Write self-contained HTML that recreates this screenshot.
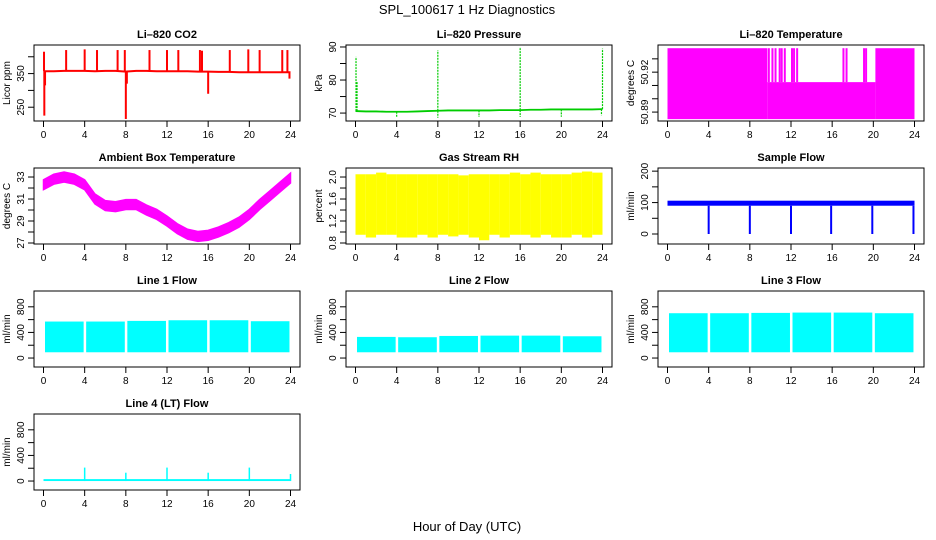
<!DOCTYPE html>
<html><head><meta charset="utf-8"><style>
html,body{margin:0;padding:0;background:#fff;}
svg{display:block;font-family:"Liberation Sans",sans-serif;}
</style></head><body>
<svg id="c" width="936" height="540" viewBox="0 0 936 540">
<text x="467" y="14" text-anchor="middle" font-size="13">SPL_100617  1 Hz Diagnostics</text>
<text x="467" y="531" text-anchor="middle" font-size="13">Hour of Day (UTC)</text>
</svg>
<script>
// ---- data ----
const xTicks = [0,4,8,12,16,20,24];
const hours = [0,1,2,3,4,5,6,7,8,9,10,11,12,13,14,15,16,17,18,19,20,21,22,23,24];
// CO2
const co2Base = [357,357,358,358,358,357,358,358,356,358,358,357,357,357,357,356,356,355,355,354,354,354,354,354,354];
const co2Spikes = [[0.05,415],[0.08,225],[0.15,315],[2.2,420],[4.0,422],[5.2,420],[7.2,420],[7.9,420],[8.0,215],[8.1,320],[10.3,420],[12.0,420],[13.1,420],[15.2,420],[15.4,418],[16.0,290],[18.1,420],[19.9,422],[21.0,420],[23.2,420],[23.7,420],[23.9,335]];
// Pressure
const presBase = [70.6,70.5,70.5,70.4,70.4,70.4,70.5,70.6,70.7,70.8,70.8,70.8,70.8,70.8,70.9,70.9,70.9,71.0,71.0,71.1,71.1,71.1,71.1,71.1,71.2];
const presSpikes = [[0.05,87],[0.15,79.5],[8.0,89],[16.0,90],[24.0,89.5],[4.0,68.6],[8.0,68.6],[12.0,68.8],[16.0,68.8],[20.0,68.9],[23.9,69.3]];
// Li-820 temperature: [start, end, top]
const tempSegs = [[0,9.7,50.938],[9.7,20.2,50.9125],[20.2,24,50.938]];
const tempSpikes = [9.75,10.1,10.4,10.8,11.0,11.3,12.0,12.2,12.5,17.0,17.3,19.0,19.2];
const tempBottom = 50.8847;
// Ambient box temperature (hourly centre)
const ambMean = [32.3,32.8,33.0,32.8,32.3,31.0,30.4,30.3,30.5,30.5,30.0,29.6,29.0,28.3,27.8,27.6,27.7,28.0,28.4,28.9,29.6,30.5,31.3,32.1,32.9];
const ambHalf = 0.45;
// Gas stream RH (hourly min/max)
const rhMin = [0.95,0.9,0.95,0.95,0.9,0.9,0.95,0.9,0.95,0.92,0.95,0.9,0.85,0.95,0.9,0.95,0.95,0.9,0.95,0.9,0.9,0.95,0.9,0.95,1.0];
const rhMax = [2.05,2.05,2.08,2.05,2.05,2.05,2.05,2.05,2.05,2.05,2.03,2.05,2.05,2.05,2.05,2.08,2.05,2.08,2.05,2.05,2.05,2.08,2.1,2.08,2.05];
// Sample flow
const sfLow = 90, sfHigh = 106;
const sfDrops = [4,8,12,15.9,19.9,23.9];
// Line flows (per 4h block high values)
const flowBlocks = [0,4,8,12,16,20];
const line1High = [570,570,580,590,590,575];
const line2High = [330,325,345,350,350,340];
const line3High = [700,700,705,710,710,700];
const flowLow = 90;
const line4Spikes = [[4,210],[8,130],[12,210],[16,130],[20,210],[24,110]];
const line4Base = 18;

// ---- layout ----
const NS="http://www.w3.org/2000/svg";
const svg=document.getElementById('c');
function el(tag,attrs,parent){const e=document.createElementNS(NS,tag);for(const k in attrs)e.setAttribute(k,attrs[k]);(parent||svg).appendChild(e);return e;}
const colX=[34,346,658], rowY=[45,168,291,414], BW=266, BH=76;

function panel(col,row,title,ylab,y0,y1,yticks,ylabels,name){
  const g=el('g',{});
  
  
  const bx=colX[col], by=rowY[row];
  const xs=h=>bx+9.5+h*(247/24);
  const ys=v=>by+BH-(v-y0)/(y1-y0)*BH;
  const t=el('text',{x:bx+BW/2,y:by-7,'text-anchor':'middle','font-size':'11','font-weight':'bold'},g);
  t.textContent=title;
  
  
  const plot=el('g',{},g);
  
  
  const box=el('rect',{x:bx,y:by,width:BW,height:BH,fill:'none',stroke:'#000','stroke-width':1},g);
  
  
  xTicks.forEach(h=>{
    el('line',{x1:xs(h),x2:xs(h),y1:by+BH,y2:by+BH+6,stroke:'#000'},g);
    const l=el('text',{x:xs(h),y:by+BH+17,'text-anchor':'middle','font-size':'10'},g);
    l.textContent=h;
    
    
  });
  yticks.forEach(v=>{
    el('line',{x1:bx,x2:bx-6,y1:ys(v),y2:ys(v),stroke:'#000'},g);
  });
  ylabels.forEach(v=>{
    const l=el('text',{x:0,y:0,'text-anchor':'middle','font-size':'10',transform:`translate(${bx-10},${ys(v)}) rotate(-90)`},g);
    l.textContent=v;
    
    
  });
  const yl=el('text',{x:0,y:0,'text-anchor':'middle','font-size':'10',transform:`translate(${bx-24},${by+BH/2}) rotate(-90)`},g);
  yl.textContent=ylab;
  
  
  return {plot,xs,ys};
}

// CO2
(function(){
  const p=panel(0,0,'Li–820 CO2','Licor ppm',209,435,[250,300,350,400],['250','350'],'co2');
  const pts=hours.map((h,i)=>p.xs(h)+','+p.ys(co2Base[i])).join(' ');
  el('polyline',{points:pts,fill:'none',stroke:'#f00','stroke-width':2},p.plot);
  co2Spikes.forEach(([h,v])=>{
    const b=co2Base[Math.round(h)];
    const s=el('line',{x1:p.xs(h),x2:p.xs(h),y1:p.ys(b),y2:p.ys(v),stroke:'#f00','stroke-width':2},p.plot);
    
    
  });
})();
// Pressure
(function(){
  const p=panel(1,0,'Li–820 Pressure','kPa',67.6,90.6,[70,75,80,85,90],['70','80','90'],'pressure');
  const pts=hours.map((h,i)=>p.xs(h)+','+p.ys(presBase[i])).join(' ');
  el('polyline',{points:pts,fill:'none',stroke:'#0c0','stroke-width':1.8},p.plot);
  presSpikes.forEach(([h,v])=>{
    const b=presBase[Math.round(h)];
    const s=el('line',{x1:p.xs(h),x2:p.xs(h),y1:p.ys(b),y2:p.ys(v),stroke:'#0c0','stroke-width':1.2,'stroke-dasharray':'2,1'},p.plot);
    
    
  });
})();
// Li-820 Temperature
(function(){
  const p=panel(2,0,'Li–820 Temperature','degrees C',50.8833,50.9404,[50.89,50.90,50.91,50.92,50.93],['50.89','50.92'],'li820-temp');
  tempSegs.forEach(([a,b,top])=>{
    const r=el('rect',{x:p.xs(a),y:p.ys(top),width:p.xs(b)-p.xs(a),height:p.ys(tempBottom)-p.ys(top),fill:'#f0f'},p.plot);
    
    
  });
  tempSpikes.forEach(h=>{
    const s=el('rect',{x:p.xs(h),y:p.ys(tempSegs[0][2]),width:2,height:p.ys(tempSegs[1][2])-p.ys(tempSegs[0][2]),fill:'#f0f'},p.plot);
    
    
  });
})();
// Ambient
(function(){
  const p=panel(0,1,'Ambient Box Temperature','degrees C',26.91,33.82,[27,28,29,30,31,32,33],['27','29','31','33'],'ambient-temp');
  const up=hours.map((h,i)=>p.xs(h)+','+p.ys(ambMean[i]+ambHalf));
  const dn=hours.map((h,i)=>p.xs(h)+','+p.ys(ambMean[i]-ambHalf)).reverse();
  const poly=el('polygon',{points:up.concat(dn).join(' '),fill:'#f0f',stroke:'#f0f','stroke-width':1.5},p.plot);
  
  
})();
// RH
(function(){
  const p=panel(1,1,'Gas Stream RH','percent',0.782,2.164,[0.8,1.0,1.2,1.4,1.6,1.8,2.0],['0.8','1.2','1.6','2.0'],'rh');
  hours.slice(0,24).forEach((h,i)=>{
    const r=el('rect',{x:p.xs(h),y:p.ys(rhMax[i]),width:p.xs(h+1)-p.xs(h),height:p.ys(rhMin[i])-p.ys(rhMax[i]),fill:'#ff0'},p.plot);
    
    
  });
})();
// Sample flow
(function(){
  const p=panel(2,1,'Sample Flow','ml/min',-31.8,210,[0,50,100,150,200],['0','100','200'],'sample-flow');
  const r=el('rect',{x:p.xs(0),y:p.ys(sfHigh),width:p.xs(24)-p.xs(0),height:p.ys(sfLow)-p.ys(sfHigh),fill:'#00f'},p.plot);
  
  
  sfDrops.forEach(h=>{
    const s=el('line',{x1:p.xs(h),x2:p.xs(h),y1:p.ys(sfLow),y2:p.ys(0),stroke:'#00f','stroke-width':2},p.plot);
    
    
  });
})();
// Line flows
function flowPanel(col,row,title,highs,name){
  const p=panel(col,row,title,'ml/min',-140,1047,[0,200,400,600,800],['0','400','800'],name);
  flowBlocks.forEach((h,i)=>{
    const r=el('rect',{x:p.xs(h)+1.5,y:p.ys(highs[i]),width:p.xs(h+3.9)-p.xs(h)-1.5,height:p.ys(flowLow)-p.ys(highs[i]),fill:'#0ff'},p.plot);
    
    
  });
  return p;
}
flowPanel(0,2,'Line 1 Flow',line1High,'line1-flow');
flowPanel(1,2,'Line 2 Flow',line2High,'line2-flow');
flowPanel(2,2,'Line 3 Flow',line3High,'line3-flow');
(function(){
  const p=panel(0,3,'Line 4 (LT) Flow','ml/min',-140,1047,[0,200,400,600,800],['0','400','800'],'line4-flow');
  const b=el('rect',{x:p.xs(0),y:p.ys(line4Base+12),width:p.xs(24)-p.xs(0),height:p.ys(0)-p.ys(line4Base+12),fill:'#0ff'},p.plot);
  
  
  line4Spikes.forEach(([h,v])=>{
    const s=el('line',{x1:p.xs(h),x2:p.xs(h),y1:p.ys(0),y2:p.ys(v),stroke:'#0ff','stroke-width':1.5},p.plot);
    
    
  });
})();
</script>
</body></html>
